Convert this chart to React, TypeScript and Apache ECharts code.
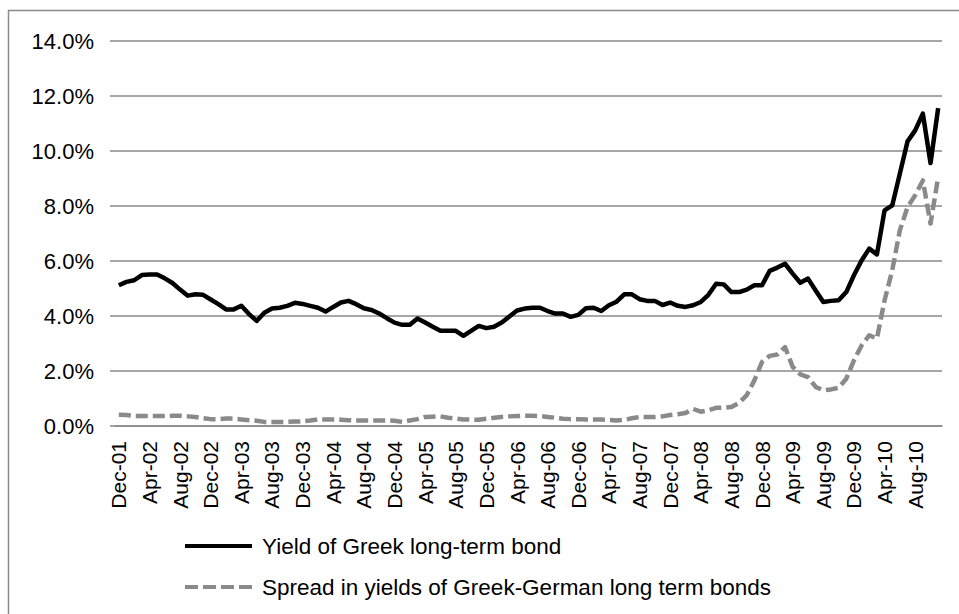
import React, { useEffect, useRef } from "react";
import * as echarts from "echarts";

const months: string[] = [
  "Dec-01",
  "Jan-02", "Feb-02", "Mar-02", "Apr-02", "May-02", "Jun-02", "Jul-02", "Aug-02", "Sep-02", "Oct-02", "Nov-02", "Dec-02",
  "Jan-03", "Feb-03", "Mar-03", "Apr-03", "May-03", "Jun-03", "Jul-03", "Aug-03", "Sep-03", "Oct-03", "Nov-03", "Dec-03",
  "Jan-04", "Feb-04", "Mar-04", "Apr-04", "May-04", "Jun-04", "Jul-04", "Aug-04", "Sep-04", "Oct-04", "Nov-04", "Dec-04",
  "Jan-05", "Feb-05", "Mar-05", "Apr-05", "May-05", "Jun-05", "Jul-05", "Aug-05", "Sep-05", "Oct-05", "Nov-05", "Dec-05",
  "Jan-06", "Feb-06", "Mar-06", "Apr-06", "May-06", "Jun-06", "Jul-06", "Aug-06", "Sep-06", "Oct-06", "Nov-06", "Dec-06",
  "Jan-07", "Feb-07", "Mar-07", "Apr-07", "May-07", "Jun-07", "Jul-07", "Aug-07", "Sep-07", "Oct-07", "Nov-07", "Dec-07",
  "Jan-08", "Feb-08", "Mar-08", "Apr-08", "May-08", "Jun-08", "Jul-08", "Aug-08", "Sep-08", "Oct-08", "Nov-08", "Dec-08",
  "Jan-09", "Feb-09", "Mar-09", "Apr-09", "May-09", "Jun-09", "Jul-09", "Aug-09", "Sep-09", "Oct-09", "Nov-09", "Dec-09",
  "Jan-10", "Feb-10", "Mar-10", "Apr-10", "May-10", "Jun-10", "Jul-10", "Aug-10", "Sep-10", "Oct-10", "Nov-10",
];

// Yield of Greek long-term bond (%)
const greekYield: number[] = [
  5.12, 5.24, 5.3, 5.49, 5.51, 5.51, 5.37, 5.2, 4.96, 4.74, 4.79, 4.77, 4.6,
  4.43, 4.24, 4.24, 4.37, 4.07, 3.82, 4.12, 4.27, 4.3, 4.37, 4.48, 4.44, 4.37,
  4.3, 4.16, 4.33, 4.49, 4.55, 4.43, 4.28, 4.22, 4.09, 3.92, 3.76, 3.68, 3.68,
  3.91, 3.76, 3.61, 3.46, 3.46, 3.46, 3.28, 3.46, 3.64, 3.56, 3.61, 3.76, 3.98, 4.2,
  4.27, 4.3, 4.3, 4.18, 4.09, 4.09, 3.97, 4.04, 4.28, 4.3, 4.18, 4.39,
  4.52, 4.79, 4.79, 4.61, 4.55, 4.55, 4.4, 4.49, 4.37, 4.33, 4.39,
  4.51, 4.77, 5.17, 5.15, 4.87, 4.87, 4.96, 5.12, 5.12, 5.64, 5.76, 5.9,
  5.54, 5.21, 5.36, 4.93, 4.51, 4.55, 4.57, 4.87, 5.48, 6.02, 6.45, 6.24,
  7.84, 8.02, 9.18, 10.35, 10.75, 11.36, 9.56, 11.56,
];

// Spread in yields of Greek-German long term bonds (%)
const spread: number[] = [
  0.41, 0.4, 0.37, 0.36, 0.36, 0.36, 0.36, 0.37, 0.37, 0.35, 0.33, 0.28, 0.25,
  0.25, 0.27, 0.27, 0.24, 0.21, 0.19, 0.15, 0.15, 0.15, 0.15, 0.16, 0.17, 0.2,
  0.24, 0.24, 0.24, 0.23, 0.21, 0.2, 0.2, 0.2, 0.2, 0.2, 0.19, 0.15, 0.2,
  0.25, 0.33, 0.34, 0.35, 0.3, 0.27, 0.24, 0.23, 0.23, 0.26, 0.3, 0.33, 0.35, 0.36,
  0.37, 0.37, 0.36, 0.33, 0.3, 0.26, 0.25, 0.25, 0.24, 0.24, 0.24, 0.22,
  0.2, 0.22, 0.28, 0.33, 0.33, 0.33, 0.35, 0.4, 0.43, 0.47, 0.62,
  0.52, 0.57, 0.66, 0.67, 0.69, 0.84, 1.12, 1.66, 2.33, 2.55, 2.6, 2.87,
  2.15, 1.88, 1.78, 1.42, 1.3, 1.33, 1.39, 1.72, 2.39, 2.93, 3.3, 3.18,
  4.57, 5.66, 7.12, 7.96, 8.39, 8.93, 7.36, 9.05,
];

const seriesNames = [
  "Yield of Greek long-term bond",
  "Spread in yields of Greek-German long term bonds",
];

const FONT = "'Liberation Sans', Arial, sans-serif";
const GREY = "#8a8a8a";

export default function App() {
  const ref = useRef<HTMLDivElement>(null);
  useEffect(() => {
    if (!ref.current) return;
    const chart = echarts.init(ref.current, undefined, { renderer: "svg" });
    chart.setOption({
      animation: false,
      backgroundColor: "#ffffff",
      textStyle: { fontFamily: FONT },
      grid: { left: 115, right: 17, top: 41, bottom: 188 },
      graphic: [
        {
          type: "rect",
          shape: { x: 8.5, y: 10.5, width: 2000, height: 2000 },
          style: { fill: "none", stroke: GREY, lineWidth: 1.5 },
          silent: true,
        },
      ],
      legend: {
        orient: "vertical",
        left: 185,
        top: 533,
        padding: 0,
        itemWidth: 67,
        itemHeight: 4,
        itemGap: 15,
        data: [
          {
            name: seriesNames[0],
            icon: "path://M0,0H67V4H0Z",
            itemStyle: { color: "#000000" },
          },
          {
            name: seriesNames[1],
            icon: "path://M0,0H13V4H0Z M18,0H31V4H18Z M36,0H49V4H36Z M54,0H67V4H54Z",
            itemStyle: { color: GREY },
          },
        ],
        textStyle: {
          fontFamily: FONT,
          fontSize: 22.5,
          color: "#000",
          lineHeight: 26,
          padding: [0, 0, 0, 5],
        },
      },
      xAxis: {
        type: "category",
        data: months,
        boundaryGap: true,
        axisLine: { show: true, lineStyle: { color: GREY, width: 1.5 } },
        axisTick: { show: false },
        axisLabel: {
          interval: 3,
          rotate: 90,
          margin: 15,
          fontSize: 21,
          color: "#000",
          fontFamily: FONT,
        },
        splitLine: { show: false },
      },
      yAxis: {
        type: "value",
        min: 0,
        max: 14,
        interval: 2,
        axisLine: { show: false },
        axisTick: { show: true, length: 5, lineStyle: { color: GREY, width: 1.5 } },
        axisLabel: {
          margin: 21,
          fontSize: 22,
          color: "#000",
          fontFamily: FONT,
          formatter: (v: number) => v.toFixed(1) + "%",
        },
        splitLine: { show: true, lineStyle: { color: GREY, width: 1.5 } },
      },
      series: [
        {
          name: seriesNames[0],
          type: "line",
          data: greekYield,
          symbol: "none",
          lineStyle: { color: "#000000", width: 4.5, join: "round" },
          itemStyle: { color: "#000000" },
        },
        {
          name: seriesNames[1],
          type: "line",
          data: spread,
          symbol: "none",
          lineStyle: { color: GREY, width: 4.5, type: [12, 5], join: "round" },
          itemStyle: { color: GREY },
        },
      ],
    });
    return () => chart.dispose();
  }, []);
  return (
    <div
      ref={ref}
      style={{ position: "fixed", left: 0, top: 0, width: 959, height: 614 }}
    />
  );
}
